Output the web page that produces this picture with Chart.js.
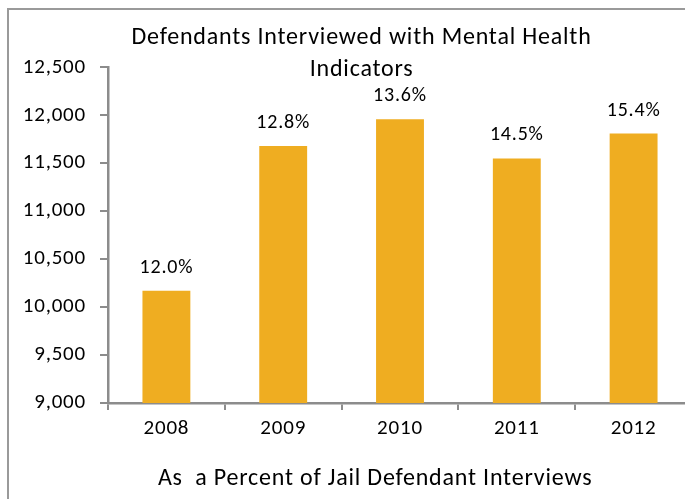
<!DOCTYPE html>
<html>
<head>
<meta charset="utf-8">
<script src="https://cdn.jsdelivr.net/npm/chart.js@4.4.1/dist/chart.umd.min.js"></script>
<style>
  html, body { margin: 0; padding: 0; background: #fff; overflow: hidden; }
  #wrap { position: absolute; left: 0; top: 0; width: 720px; height: 520px; }
  #frame { position: absolute; left: 7px; top: 8px; width: 706px; height: 520px;
           border: 2px solid #9a9a9a; box-sizing: border-box; pointer-events: none; }
</style>
</head>
<body>
<div id="wrap"><canvas id="mhChart" width="720" height="520"></canvas></div>
<div id="frame"></div>
<script>
// datos del grafico
const years = ['2008', '2009', '2010', '2011', '2012'];
const interviewed = [10170, 11680, 11960, 11550, 11810];
const percentLabels = ['12.0%', '12.8%', '13.6%', '14.5%', '15.4%'];
const yMin = 9000;
const yMax = 12500;
const yStep = 500;

const FONT = 'Carlito, Lato, sans-serif';
const axisGray = '#8c8c8c';

// espaciado de letras parecido al original
const spacingPlugin = {
    id: 'letterSpacing',
    beforeUpdate(chart) { chart.ctx.letterSpacing = '0.8px'; },
    beforeDraw(chart) { chart.ctx.letterSpacing = '0.8px'; }
};

// etiquetas de porcentaje encima de cada barra
const percentLabelPlugin = {
    id: 'percentLabels',
    afterDatasetsDraw(chart) {
        const ctx = chart.ctx;
        const meta = chart.getDatasetMeta(0);
        ctx.save();
        ctx.font = '20px ' + FONT;
        ctx.fillStyle = '#000';
        ctx.textAlign = 'center';
        ctx.textBaseline = 'alphabetic';
        meta.data.forEach((bar, i) => {
            ctx.fillText(percentLabels[i], bar.x, bar.y - 18);
        });
        ctx.restore();
    }
};

const mhConfig = {
    type: 'bar',
    data: {
        labels: years,
        datasets: [{
            data: interviewed,
            backgroundColor: '#EFAD21',
            borderWidth: 0,
            categoryPercentage: 1,
            barPercentage: 0.41
        }]
    },
    options: {
        responsive: false,
        animation: false,
        layout: { padding: { left: 0, right: 28, top: 0, bottom: 0 } },
        plugins: {
            legend: { display: false },
            tooltip: { enabled: false },
            title: {
                display: true,
                // espacios al inicio para centrar sobre el recuadro completo
                text: ['     Defendants Interviewed with Mental Health', '     Indicators'],
                color: '#000',
                font: { family: FONT, size: 24, weight: 'normal', lineHeight: 1.33 },
                padding: { top: 22.5, bottom: -19 }
            }
        },
        scales: {
            x: {
                afterFit: (scale) => { scale.height = 117; },
                grid: { display: true, drawOnChartArea: false, drawTicks: true, tickLength: 7,
                        color: axisGray, lineWidth: 2, offset: true },
                border: { display: true, color: axisGray, width: 2.5 },
                ticks: { color: '#000', padding: 6, font: { family: FONT, size: 21 } },
                title: {
                    display: true,
                    text: 'As  a Percent of Jail Defendant Interviews        ',
                    color: '#000',
                    font: { family: FONT, size: 24, lineHeight: 1.2 },
                    padding: { top: 0, bottom: 27 }
                }
            },
            y: {
                min: yMin,
                max: yMax,
                afterFit: (scale) => { scale.width = 108; },
                grid: { display: true, drawOnChartArea: false, drawTicks: true, tickLength: 8,
                        color: axisGray, lineWidth: 2 },
                border: { display: true, color: axisGray, width: 2.5 },
                ticks: { stepSize: yStep, color: '#000', padding: 14,
                         font: { family: FONT, size: 21 },
                         callback: (v) => v.toLocaleString('en-US') }
            }
        }
    },
    plugins: [spacingPlugin, percentLabelPlugin]
};

const mhChart = new Chart(document.getElementById('mhChart'), mhConfig);
</script>
</body>
</html>
